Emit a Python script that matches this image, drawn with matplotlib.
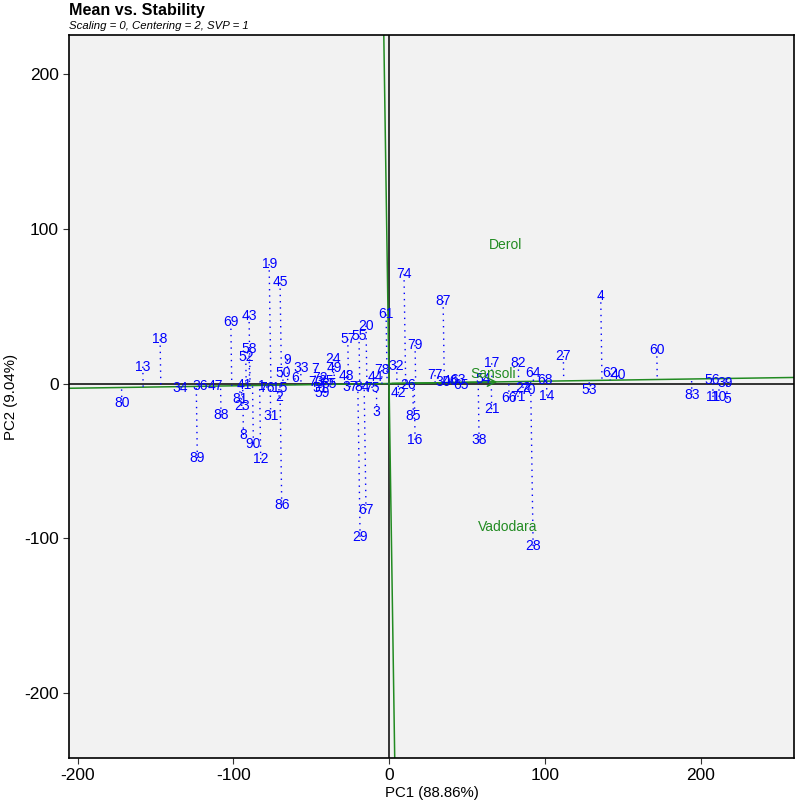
import numpy as np
import matplotlib
matplotlib.use("Agg")
import matplotlib.pyplot as plt

plt.rcParams['font.family'] = ['Liberation Sans', 'DejaVu Sans']
plt.rcParams['axes.unicode_minus'] = False

# Genotype scores (PC1, PC2)
gen_labels = [80, 13, 18, 34, 36, 47, 89, 88, 69, 43, 58, 52, 41, 81, 23, 8, 90, 12, 31, 76,
              1, 15, 2, 19, 45, 86, 9, 50, 6, 33, 7, 51, 59, 72, 73, 25, 35, 24, 49, 48,
              37, 84, 75, 44, 78, 32, 3, 42, 26, 85, 16, 74, 61, 20, 55, 57, 79, 87, 67, 29,
              77, 30, 46, 63, 65, 54, 17, 21, 38, 82, 66, 71, 22, 70, 64, 68, 14, 27, 53, 28,
              4, 62, 40, 60, 83, 56, 39, 11, 10, 5]
pc1 = [-171.6, -158.1, -147.0, -134.2, -121.3, -111.7, -123.1, -107.9, -101.6, -89.9,
       -89.9, -92.0, -93.1, -95.7, -94.6, -93.5, -87.1, -82.4, -76.0, -78.5,
       -81.5, -70.0, -70.6, -77.0, -70.0, -68.9, -65.3, -68.2, -60.4, -56.7,
       -47.5, -44.3, -43.0, -44.3, -46.9, -40.4, -38.5, -35.8, -35.3, -27.2,
       -25.0, -17.3, -10.9, -9.0, -4.7, 4.9, -7.9, 6.0, 12.0, 15.6,
       16.7, 9.6, -1.9, -14.8, -19.3, -26.5, 16.7, 34.7, -14.8, -18.6,
       29.5, 34.7, 39.2, 44.3, 46.2, 60.5, 65.9, 65.9, 57.8, 83.0,
       77.0, 82.8, 86.0, 89.2, 92.6, 100.2, 101.3, 111.9, 128.6, 92.5,
       135.9, 141.9, 147.2, 171.9, 194.4, 207.2, 215.7, 208.0, 211.9, 217.0]
pc2 = [-12.8, 10.9, 28.6, -2.7, -1.6, -1.6, -48.3, -20.4, 39.5, 43.8,
       22.1, 16.9, -1.0, -10.0, -14.5, -33.3, -39.1, -49.0, -20.8, -2.7,
       -1.6, -2.7, -8.5, 77.2, 65.4, -78.5, 15.2, 6.6, 3.4, 10.2,
       9.2, -2.9, -6.1, 3.6, 1.0, 1.6, -0.3, 15.6, 9.8, 4.8,
       -2.3, -2.3, -2.9, 4.2, 8.7, 11.3, -18.2, -6.3, -1.0, -21.0,
       -36.5, 70.8, 44.7, 37.4, 30.9, 28.8, 24.9, 53.3, -81.7, -99.1,
       5.5, 1.0, 1.6, 2.3, -1.0, 2.7, 13.1, -16.7, -36.6, 13.1,
       -9.4, -8.7, -2.9, -4.2, 6.6, 2.3, -7.9, 17.8, -4.2, -105.0,
       56.5, 6.6, 5.5, 21.6, -7.4, 2.3, 0.3, -8.7, -8.7, -10.0]

# Environment scores
env_labels = ["Derol", "Sansoli", "Vadodara"]
env_pc1 = [74.5, 66.8, 76.4]
env_pc2 = [89.5, 6.1, -92.7]

# Average environment coordinate
mean_env = (71.3, 1.07)

xlim = (-205.5, 260.0)
ylim = (-242.0, 225.2)
ticks = [-200, -100, 0, 100, 200]

blue = "#0000FF"
green = "#228B22"

fig = plt.figure(figsize=(7.96, 8.09), dpi=100)
ax = fig.add_axes([69/796, 1-758/809, (794-69)/796, (758-35)/809])
ax.set_facecolor("#F2F2F2")

ax.axhline(0, color="black", lw=1.1, zorder=1)
ax.axvline(0, color="black", lw=1.1, zorder=1)

d = np.array(mean_env) / np.hypot(*mean_env)
t = np.array([-1000, 1000])
ax.plot(t * d[0], t * d[1], color=green, lw=1.1, zorder=2)
ax.plot(-t * d[1], t * d[0], color=green, lw=1.1, zorder=2)
ax.annotate("", xy=mean_env, xytext=(0, 0),
            arrowprops=dict(arrowstyle="->,head_length=0.6,head_width=0.3", color=green, lw=1.1),
            zorder=3)

P = np.column_stack([pc1, pc2])
proj = (P @ d)[:, None] * d[None, :]
for (x, y), (px, py) in zip(P, proj):
    ax.plot([x, px], [y, py], color=blue, lw=1.0, ls=(0, (1, 3.5)), zorder=2)

for lab, x, y in zip(gen_labels, pc1, pc2):
    ax.text(x, y, str(lab), color=blue, fontsize=10, ha="center", va="center", zorder=4)

for lab, x, y in zip(env_labels, env_pc1, env_pc2):
    ax.text(x, y, lab, color=green, fontsize=10, ha="center", va="center", zorder=4)

ax.set_xlim(*xlim)
ax.set_ylim(*ylim)
ax.set_xticks(ticks)
ax.set_yticks(ticks)
ax.tick_params(labelsize=12.5, length=4, color="#333333", labelcolor="black")
for s in ax.spines.values():
    s.set_color("black")
    s.set_linewidth(1.2)
ax.set_xlabel("PC1 (88.86%)", fontsize=10.8, labelpad=2)
ax.set_ylabel("PC2 (9.04%)", fontsize=10.8, labelpad=4)

fig.text(69/796, 1-10/809, "Mean vs. Stability", fontsize=11.6, fontweight="bold", ha="left", va="center")
fig.text(69/796, 1-26/809, "Scaling = 0, Centering = 2, SVP = 1", fontsize=8.2, fontstyle="italic", ha="left", va="center")

fig.savefig("out.png", dpi=100)
